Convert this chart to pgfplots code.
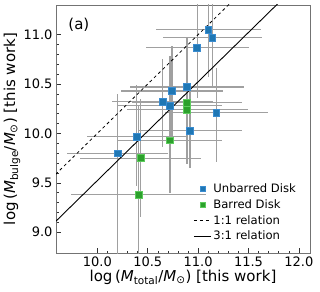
\documentclass[border=0pt]{standalone}
\usepackage{pgfplots}
\pgfplotsset{compat=1.18}
\usepackage{pgfplotstable}
\usepackage{fontspec}
\setmainfont{DejaVu Sans}
\definecolor{mblue}{HTML}{1F77B4}
\definecolor{mblueedge}{HTML}{3A8CD0}
\definecolor{mgreen}{HTML}{2CA02C}
\definecolor{mgreenedge}{HTML}{5CCB5C}
\definecolor{ebar}{HTML}{A0A0A0}

\pgfplotstableread{
x y ex eyp eym
11.10 11.05 0.52 0.50 0.48
11.14 10.97 0.49 0.50 0.50
10.99 10.87 0.51 0.60 0.51
10.89 10.47 0.57 0.50 0.55
10.74 10.43 0.51 0.46 0.50
10.65 10.32 0.50 0.43 0.46
10.72 10.28 0.52 0.50 0.50
11.18 10.21 0.51 0.45 0.50
10.92 10.03 0.52 0.45 0.38
10.39 9.97 0.49 0.52 0.50
10.20 9.80 0.50 0.60 1.10
}\unbarred

\pgfplotstableread{
x y ex eyp eym
10.89 10.31 0.55 0.60 0.60
10.89 10.24 0.60 0.55 0.55
10.72 9.93 0.52 0.55 0.53
10.43 9.75 0.60 0.60 0.60
10.41 9.38 0.67 0.90 0.80
}\barred

\begin{document}
\begin{tikzpicture}
\begin{axis}[
  name=ax,
  scale only axis,
  width=254pt, height=248pt,
  xmin=9.59, xmax=12.11, ymin=8.79, ymax=11.3,
  xtick={10,10.5,11,11.5,12},
  ytick={9,9.5,10,10.5,11},
  minor x tick num=4, minor y tick num=4,
  tick align=inside,
  xtick pos=lower, ytick pos=left,
  major tick length=5pt, minor tick length=2.5pt,
  every tick/.style={black!80, line width=0.6pt},
  axis line style={black!55, line width=0.8pt},
  tick label style={font=\fontsize{13}{15}\selectfont},
  /pgf/number format/assume math mode=true,
  xticklabel={\pgfmathprintnumber[fixed,fixed zerofill,precision=1]{\tick}},
  yticklabel={\pgfmathprintnumber[fixed,fixed zerofill,precision=1]{\tick}},
  xlabel={log\,(\textit{M}\textsubscript{total}/\textit{M}\textsubscript{⊙}) [this work]},
  ylabel={log\,(\textit{M}\textsubscript{bulge}/\textit{M}\textsubscript{⊙}) [this work]},
  label style={font=\fontsize{15}{18}\selectfont},
  xlabel style={at={(axis description cs:0.5,-0.097)}, anchor=center},
  ylabel style={at={(axis description cs:-0.173,0.5)}, anchor=center},
  legend style={draw=none, fill=none, font=\fontsize{11.6}{14}\selectfont,
    at={(axis description cs:0.965,0.03)}, anchor=south east,
    row sep=1.5pt, cells={anchor=west}},
  legend cell align=left,
]
% error bars
\addplot[forget plot, draw=none, mark=none,
  error bars/.cd, x dir=both, y dir=both, x explicit, y explicit,
  error mark=none,
  error bar style={ebar, line width=1.2pt}]
  table[x=x, y=y, x error=ex, y error plus=eyp, y error minus=eym]{\unbarred};
\addplot[forget plot, draw=none, mark=none,
  error bars/.cd, x dir=both, y dir=both, x explicit, y explicit,
  error mark=none,
  error bar style={ebar, line width=1.2pt}]
  table[x=x, y=y, x error=ex, y error plus=eyp, y error minus=eym]{\barred};
% relations
\addplot[forget plot, black, dashed, line width=0.8pt] coordinates {(9.5,9.5) (12.2,12.2)};
\addplot[forget plot, black, line width=0.9pt] coordinates {(9.5,9.0229) (12.2,11.7229)};
% markers
\addplot[forget plot, only marks, mark=square*, mark size=3.4pt,
  mark options={fill=mblue, draw=mblueedge, line width=0.5pt}]
  table[x=x, y=y]{\unbarred};
\addplot[forget plot, only marks, mark=square*, mark size=3.4pt,
  mark options={fill=mgreen, draw=mgreenedge, line width=0.7pt}]
  table[x=x, y=y]{\barred};
\addlegendimage{only marks, mark=square*, mark size=2.4pt, mark options={fill=mblue, draw=mblueedge}}
\addlegendentry{Unbarred Disk}
\addlegendimage{only marks, mark=square*, mark size=2.4pt, mark options={fill=mgreen, draw=mgreenedge}}
\addlegendentry{Barred Disk}
\addlegendimage{black, dashed, line width=0.8pt}
\addlegendentry{1:1 relation}
\addlegendimage{black, line width=0.9pt}
\addlegendentry{3:1 relation}
\node[font=\fontsize{15}{18}\selectfont] at (axis description cs:0.09,0.919) {(a)};
\end{axis}
\pgfresetboundingbox
\path ([xshift=-56pt,yshift=-38pt]ax.south west) rectangle ([xshift=10pt,yshift=5pt]ax.north east);
\end{tikzpicture}
\end{document}
